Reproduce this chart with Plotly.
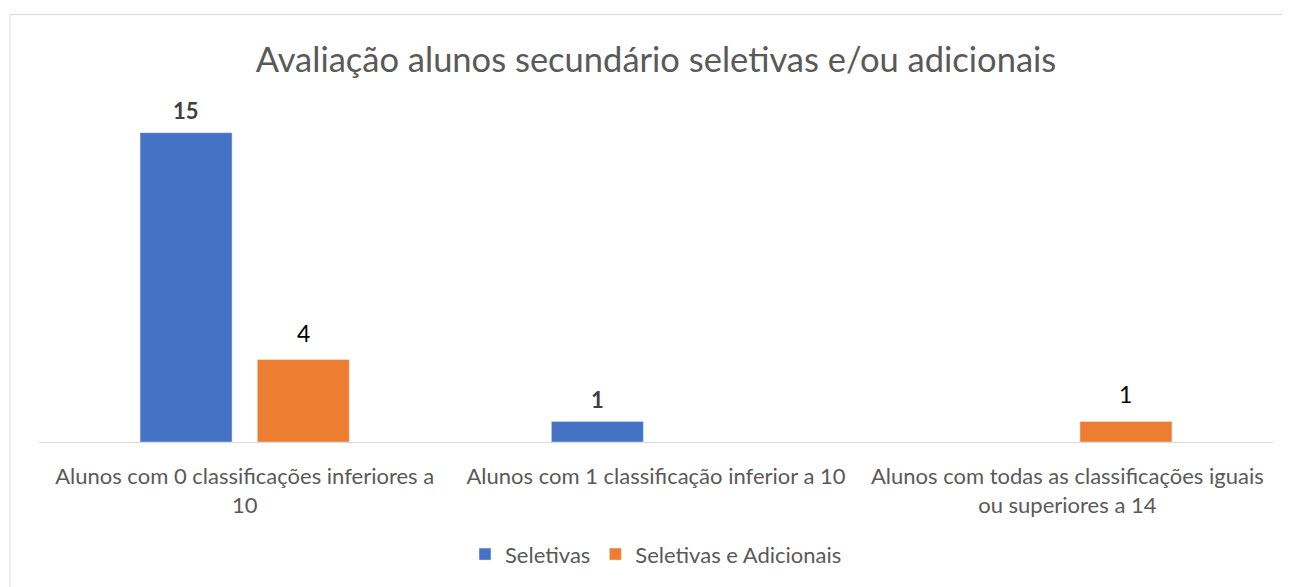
import plotly.graph_objects as go

categories = [
    "Alunos com 0 classificações inferiores a 10",
    "Alunos com 1 classificação inferior a 10",
    "Alunos com todas as classificações iguais ou superiores a 14",
]
tick_labels = [
    "Alunos com 0 classificações inferiores a<br>10",
    "Alunos com 1 classificação inferior a 10",
    "Alunos com todas as classificações iguais<br>ou superiores a 14",
]
seletivas = [15, 1, None]
seletivas_adicionais = [4, None, 1]
series_names = ["Seletivas", "Seletivas e Adicionais"]
title = "Avaliação alunos secundário seletivas e/ou adicionais"

FONT = "Lato"
# page has an 8px body margin; figure laid out in its own coords
W, H = 1282, 579
L, R, T, B = 31, 17, 104, 143
PW, PH = W - L - R, H - T - B
SLOT = 117  # px offset of each bar from category centre = slot/2
BLUE, ORANGE = "#4472C4", "#ED7D31"

fig = go.Figure()
fig.add_trace(go.Bar(x=categories, y=seletivas, name=series_names[0],
                     marker_color=BLUE))
fig.add_trace(go.Bar(x=categories, y=seletivas_adicionais, name=series_names[1],
                     marker_color=ORANGE))

# data labels above bars
for cat, v in zip(categories, seletivas):
    if v is not None:
        fig.add_annotation(x=cat, y=v, xref="x", yref="y", text="%d" % v,
                           showarrow=False, xshift=-SLOT / 2, yshift=22,
                           yanchor="middle",
                           font=dict(family=FONT, size=22, color="#404040",
                                     weight="bold"))
for cat, v in zip(categories, seletivas_adicionais):
    if v is not None:
        fig.add_annotation(x=cat, y=v, xref="x", yref="y", text="%d" % v,
                           showarrow=False, xshift=SLOT / 2, yshift=27,
                           yanchor="middle",
                           font=dict(family=FONT, size=23, color="#000000"))

# chart border (light gray)
bx = (2 - L) / PW
by = (PH + (T - 6)) / PH
fig.add_shape(type="line", xref="paper", yref="paper",
              x0=bx, x1=(W + 20 - L) / PW, y0=by, y1=by,
              line=dict(color="#D9D9D9", width=1))
fig.add_shape(type="line", xref="paper", yref="paper",
              x0=bx, x1=bx, y0=by, y1=-(B + 20) / PH,
              line=dict(color="#D9D9D9", width=1))

fig.update_layout(
    width=W, height=H,
    margin=dict(l=L, r=R, t=T, b=B),
    paper_bgcolor="white", plot_bgcolor="white",
    barmode="group", bargap=0.43, bargroupgap=0.215,
    title=dict(text=title, x=0.5, xref="paper", xanchor="center",
               y=1 - 52 / H, yanchor="middle",
               font=dict(family=FONT, size=34.5, color="#595959")),
    xaxis=dict(tickmode="array", tickvals=categories, ticktext=tick_labels,
               showline=True, linecolor="#D9D9D9", linewidth=1,
               showgrid=False, ticks="", ticklabelstandoff=15,
               tickfont=dict(family=FONT, size=22, color="#595959")),
    yaxis=dict(range=[0, 16], visible=False, showgrid=False, zeroline=False),
    legend=dict(orientation="h", x=0.5, xanchor="center",
                y=-(549 - (T + PH)) / PH, yanchor="middle",
                font=dict(family=FONT, size=22, color="#595959"),
                itemwidth=30, traceorder="normal"),
    showlegend=True,
)

fig.write_html("out.html")
